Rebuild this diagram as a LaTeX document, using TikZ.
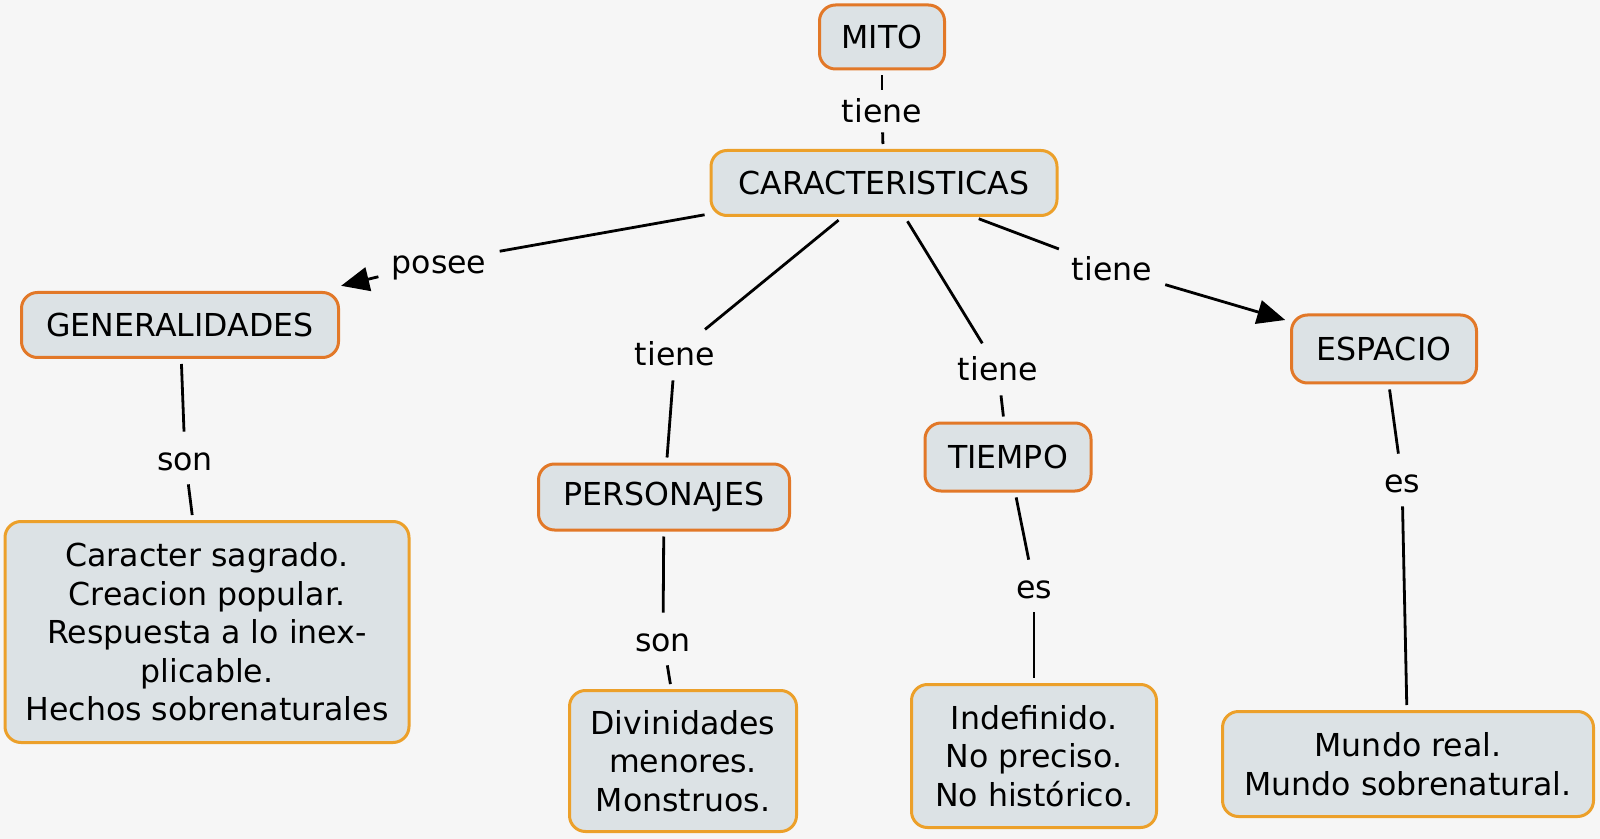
\documentclass[tikz,border=0pt]{standalone}
\usepackage{fontspec}
\setmainfont{DejaVu Sans}
\usetikzlibrary{arrows.meta}
\definecolor{bg}{RGB}{246,246,246}
\definecolor{cfill}{RGB}{220,226,229}
\definecolor{cborder}{RGB}{226,120,40}
\definecolor{cborderb}{RGB}{236,160,42}
\begin{document}
\begin{tikzpicture}[x=0.5pt,y=-0.5pt,
  concept/.style={draw=cborder, fill=cfill, line width=1.5pt, rounded corners=8pt,
    align=center, inner sep=0pt, font=\fontsize{15.8}{19.3}\selectfont},
  detail/.style={concept, draw=cborderb},
  link/.style={inner xsep=4pt, inner ysep=4pt, text height=12.5pt, text depth=0.5pt,
    font=\fontsize{15.8}{19.3}\selectfont},
  conn/.style={line width=1.4pt, shorten <=2.5pt, shorten >=2.5pt},
  arr/.style={conn, -{Triangle[length=14pt,width=12pt]}}]
\fill[bg] (0,0) rectangle (1600,839);
\useasboundingbox (0,0) rectangle (1600,839);

% concepts
\node[concept, minimum width=62.5pt, minimum height=32pt] (mito) at (882,37) {MITO};
\node[detail, minimum width=173pt, minimum height=32.5pt] (carac) at (884,183) {CARACTERISTICAS};
\node[concept, minimum width=158.5pt, minimum height=32.5pt] (gen) at (180,325) {GENERALIDADES};
\node[concept, minimum width=125.5pt, minimum height=33pt] (pers) at (664,497) {PERSONAJES};
\node[concept, minimum width=83pt, minimum height=34pt] (tiempo) at (1008,457) {TIEMPO};
\node[concept, minimum width=92.5pt, minimum height=34pt] (espacio) at (1384,349) {ESPACIO};
\node[detail, minimum width=202pt, minimum height=110.5pt] (gend) at (207,632)
  {Caracter sagrado.\\Creacion popular.\\Respuesta a lo inex-\\plicable.\\Hechos sobrenaturales};
\node[detail, minimum width=113.5pt, minimum height=70.5pt] (persd) at (683,761)
  {Divinidades\\menores.\\Monstruos.};
\node[detail, minimum width=122.5pt, minimum height=71.5pt] (tiempod) at (1034,756)
  {Indefinido.\\No preciso.\\No histórico.};
\node[detail, minimum width=185.5pt, minimum height=52.5pt] (espaciod) at (1408,764)
  {Mundo real.\\Mundo sobrenatural.};

% linking phrases
\node[link, inner ysep=1.5pt] (l1) at (882,111) {tiene};
\node[link] (l2) at (439,262) {posee};
\node[link] (l3) at (675,354) {tiene};
\node[link] (l4) at (998,369) {tiene};
\node[link] (l5) at (1112,269) {tiene};
\node[link] (l6) at (185,458) {son};
\node[link] (l7) at (663,639) {son};
\node[link] (l8) at (1034,586) {es};
\node[link] (l9) at (1402,480) {es};

% connectors
\draw[conn] (mito) -- (l1);
\draw[conn] (l1) -- (carac);
\draw[conn] (carac) -- (l2);
\draw[arr, shorten >=11pt] (l2) -- (gen);
\draw[conn] (carac) -- (l3);
\draw[conn] (l3) -- (pers);
\draw[conn] (carac) -- (l4);
\draw[conn] (l4) -- (tiempo);
\draw[conn] (carac) -- (l5);
\draw[arr] (l5) -- (espacio);
\draw[conn] (gen) -- (l6);
\draw[conn] (l6) -- (gend);
\draw[conn] (pers) -- (l7);
\draw[conn] (l7) -- (persd);
\draw[conn] (tiempo) -- (l8);
\draw[conn] (l8) -- (tiempod);
\draw[conn] (espacio) -- (l9);
\draw[conn] (l9) -- (espaciod);
\end{tikzpicture}
\end{document}
